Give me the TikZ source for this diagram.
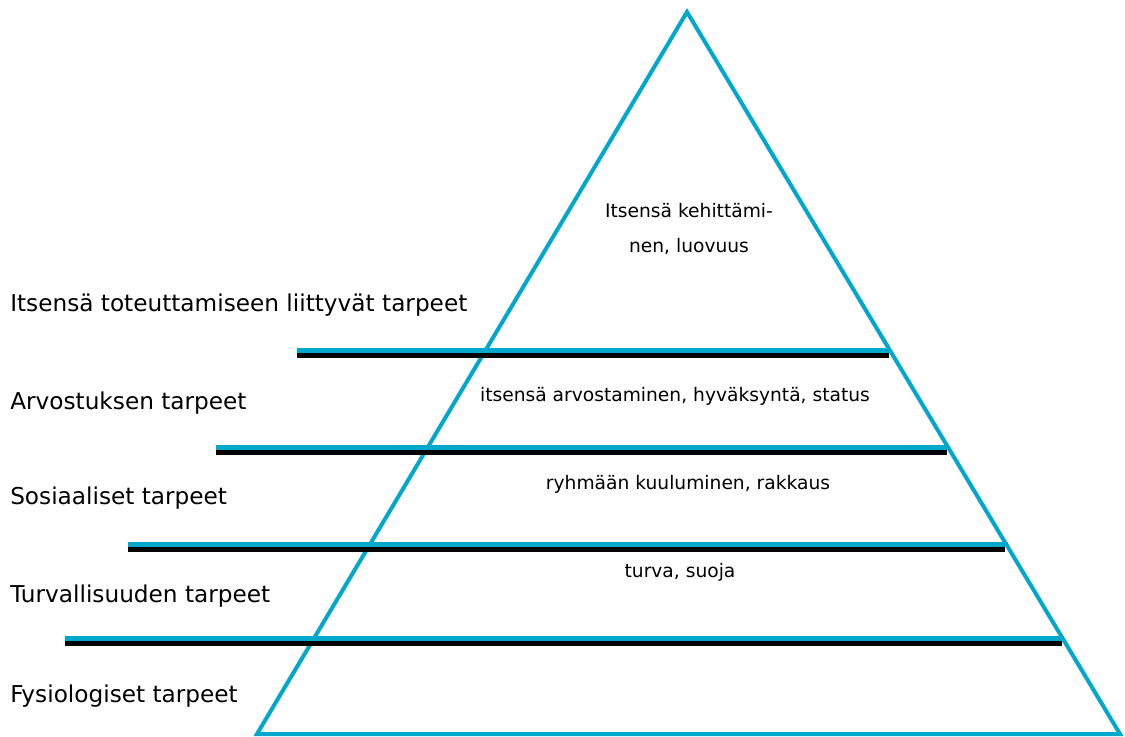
\documentclass[tikz,border=0pt]{standalone}
\usepackage{fontspec}
\setmainfont{DejaVu Sans}
\usetikzlibrary{calc}

\definecolor{pyrcyan}{RGB}{0,168,204}

\tikzset{
    level/.style={font=\fontsize{17.4}{20}\selectfont, anchor=base west, inner sep=0pt},
    need/.style={font=\fontsize{14}{26.25}\selectfont, anchor=base, align=center, inner sep=0pt},
}

\begin{document}
\begin{tikzpicture}[x=0.75pt,y=-0.75pt]
    \useasboundingbox (0,0) rectangle (1125,737);

    % Pyramid
    \coordinate (top) at (687,12);
    \coordinate (bl) at (257,734);
    \coordinate (br) at (1120,734);
    \draw[pyrcyan, line width=3pt, line join=miter] (top) -- (br) -- (bl) -- cycle;

    % Level dividers (black shadow under cyan bar)
    \foreach \yy/\xl in {351/297, 448/216, 545/128, 639/65}{
        \pgfmathsetmacro{\xr}{687+(\yy-12)/722*433}
        \pgfmathsetmacro{\xs}{687+(\yy+4.5-12)/722*433-4}
        \draw[black, line width=3.5pt] (\xl,\yy+4.5) -- (\xs,\yy+4.5);
        \draw[pyrcyan, line width=3.75pt] (\xl,\yy) -- (\xr+1,\yy);
    }

    % Level names
    \node[level] (selfact) at (10,312) {Itsensä toteuttamiseen liittyvät tarpeet};
    \node[level] (esteem)  at (10,410) {Arvostuksen tarpeet};
    \node[level] (social)  at (10,505) {Sosiaaliset tarpeet};
    \node[level] (safety)  at (10,603) {Turvallisuuden tarpeet};
    \node[level] (physio)  at (10,702) {Fysiologiset tarpeet};

    % Contents
    \node[need] (growth)  at (689,253) {Itsensä kehittämi-\\nen, luovuus};
    \node[need] (respect) at (675,402) {itsensä arvostaminen, hyväksyntä, status};
    \node[need] (belong)  at (688,490) {ryhmään kuuluminen, rakkaus};
    \node[need] (shelter) at (680,578) {turva, suoja};
\end{tikzpicture}
\end{document}
